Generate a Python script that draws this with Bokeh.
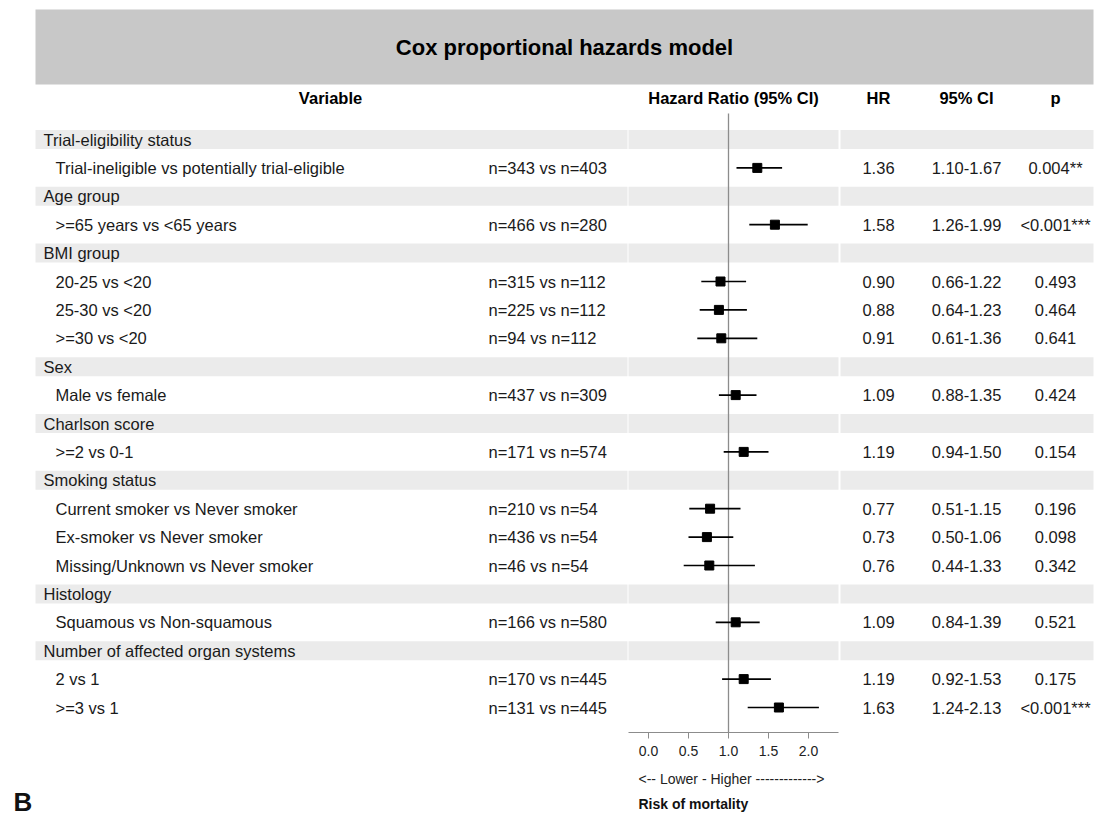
from bokeh.plotting import figure
from bokeh.models import ColumnDataSource, Range1d, LinearAxis, FixedTicker, NumeralTickFormatter
from bokeh.core.properties import value
from bokeh.embed import file_html
from bokeh.resources import INLINE

# ---------------- data ----------------
title = "Cox proportional hazards model"
headers = ["Variable", "Hazard Ratio (95% CI)", "HR", "95% CI", "p"]

variables = ["Trial-eligibility status", "Age group", "BMI group", "Sex",
             "Charlson score", "Smoking status", "Histology",
             "Number of affected organ systems"]
n_comparisons = [1, 1, 3, 1, 1, 3, 1, 2]

comparisons = ["Trial-ineligible vs potentially trial-eligible",
               ">=65 years vs <65 years",
               "20-25 vs <20", "25-30 vs <20", ">=30 vs <20",
               "Male vs female",
               ">=2 vs 0-1",
               "Current smoker vs Never smoker", "Ex-smoker vs Never smoker",
               "Missing/Unknown vs Never smoker",
               "Squamous vs Non-squamous",
               "2 vs 1", ">=3 vs 1"]
n_labels = ["n=343 vs n=403", "n=466 vs n=280",
            "n=315 vs n=112", "n=225 vs n=112", "n=94 vs n=112",
            "n=437 vs n=309", "n=171 vs n=574",
            "n=210 vs n=54", "n=436 vs n=54", "n=46 vs n=54",
            "n=166 vs n=580", "n=170 vs n=445", "n=131 vs n=445"]
hr = [1.36, 1.58, 0.90, 0.88, 0.91, 1.09, 1.19, 0.77, 0.73, 0.76, 1.09, 1.19, 1.63]
ci_low = [1.10, 1.26, 0.66, 0.64, 0.61, 0.88, 0.94, 0.51, 0.50, 0.44, 0.84, 0.92, 1.24]
ci_high = [1.67, 1.99, 1.22, 1.23, 1.36, 1.35, 1.50, 1.15, 1.06, 1.33, 1.39, 1.53, 2.13]
p_labels = ["0.004**", "<0.001***", "0.493", "0.464", "0.641", "0.424", "0.154",
            "0.196", "0.098", "0.342", "0.521", "0.175", "<0.001***"]

axis_ticks = [0.0, 0.5, 1.0, 1.5, 2.0]
axis_note = "<-- Lower - Higher ------------->"
axis_title = "Risk of mortality"
panel_letter = "B"

# ---------------- layout helpers (image pixels -> data units) ----------------
W, H = 1095, 817
X0_PX, PX_PER_HR = 648.0, 80.0       # pixel of HR=0, pixels per HR unit
ROW0_PX, ROW_PX = 139.0, 28.4        # pixel of first row, row pitch


def hx(px):
    return (px - X0_PX) / PX_PER_HR


def ry(py):
    return (py - ROW0_PX) / ROW_PX


# rows
group_rows, item_rows = [], []
r = 0
for k in n_comparisons:
    group_rows.append(r)
    r += 1
    for _ in range(k):
        item_rows.append(r)
        r += 1

FONT = value("Liberation Sans")

p = figure(width=W, height=H,
           x_range=Range1d(hx(0), hx(W)),
           y_range=Range1d(ry(H), ry(0)),
           x_axis_type=None, y_axis_type=None,
           output_backend="svg", toolbar_location=None,
           min_border=0, outline_line_color=None)
p.grid.visible = False

# title band
p.hbar(y=[ry(46.5)], left=[hx(35)], right=[hx(1093)], height=75 / ROW_PX,
       color="#c8c8c8", line_color=None)
p.text(x=[hx(564)], y=[ry(47)], text=[title], text_font=FONT,
       text_font_style="bold", text_font_size="22px", text_align="center",
       text_baseline="middle", text_color="#000000")

# headers
p.text(x=[hx(330), hx(733), hx(878), hx(966), hx(1055)], y=[ry(97)] * 5,
       text=headers, text_font=FONT, text_font_style="bold",
       text_font_size="16.5px", text_align="center", text_baseline="middle",
       text_color="#000000")

# group bands (three segments)
band_h = 19 / ROW_PX
for lft, rgt in [(35, 627), (628, 838), (840, 1093)]:
    p.hbar(y=group_rows, left=hx(lft), right=hx(rgt), height=band_h,
           color="#ebebeb", line_color=None)

# reference line at HR = 1
axis_y = ry(732)
p.segment(x0=[1.0], x1=[1.0], y0=[ry(113)], y1=[axis_y],
          line_color="#8c8c8c", line_width=1.3)

# group labels
p.text(x=hx(43), y=group_rows, text=variables, text_font=FONT,
       text_font_size="16.5px", text_baseline="middle", text_color="#1a1a1a")

src = ColumnDataSource(dict(
    y=item_rows, label=comparisons, n=n_labels, hr=hr, lo=ci_low, hi=ci_high,
    hr_txt=[f"{v:.2f}" for v in hr],
    ci_txt=[f"{a:.2f}-{b:.2f}" for a, b in zip(ci_low, ci_high)],
    p_txt=p_labels))

p.text(x=hx(55), y="y", text="label", source=src, text_font=FONT,
       text_font_size="16.5px", text_baseline="middle", text_color="#1a1a1a")
p.text(x=hx(488), y="y", text="n", source=src, text_font=FONT,
       text_font_size="16.5px", text_baseline="middle", text_color="#1a1a1a")
for cx, col in [(878, "hr_txt"), (966, "ci_txt"), (1055, "p_txt")]:
    p.text(x=hx(cx), y="y", text=col, source=src, text_font=FONT,
           text_font_size="16.5px", text_align="center", text_baseline="middle",
           text_color="#1a1a1a")

# forest marks
p.segment(x0="lo", x1="hi", y0="y", y1="y", source=src,
          line_color="#000000", line_width=1.7)
p.scatter(x="hr", y="y", source=src, marker="square", size=9,
          fill_color="#000000", line_color="#000000")

# axis of the forest panel
ax = LinearAxis(fixed_location=axis_y, bounds=(hx(628), hx(838)),
                ticker=FixedTicker(ticks=axis_ticks),
                formatter=NumeralTickFormatter(format="0.0"),
                major_tick_out=6, major_tick_in=0,
                minor_tick_out=0, minor_tick_in=0,
                axis_line_color="#8c8c8c", major_tick_line_color="#8c8c8c",
                major_label_text_font="Liberation Sans",
                major_label_text_font_size="14px",
                major_label_text_color="#222222",
                major_label_standoff=7)
p.add_layout(ax, "below")

p.text(x=[hx(638)], y=[ry(778)], text=[axis_note], text_font=FONT,
       text_font_size="14px", text_baseline="middle", text_color="#222222")
p.text(x=[hx(638)], y=[ry(803)], text=[axis_title], text_font=FONT,
       text_font_style="bold", text_font_size="14px", text_baseline="middle",
       text_color="#111111")
p.text(x=[hx(13)], y=[ry(816)], text=[panel_letter], text_font=FONT,
       text_font_style="bold", text_font_size="26px", text_baseline="bottom",
       text_color="#111111")

open("out.html", "w").write(file_html(p, INLINE))
